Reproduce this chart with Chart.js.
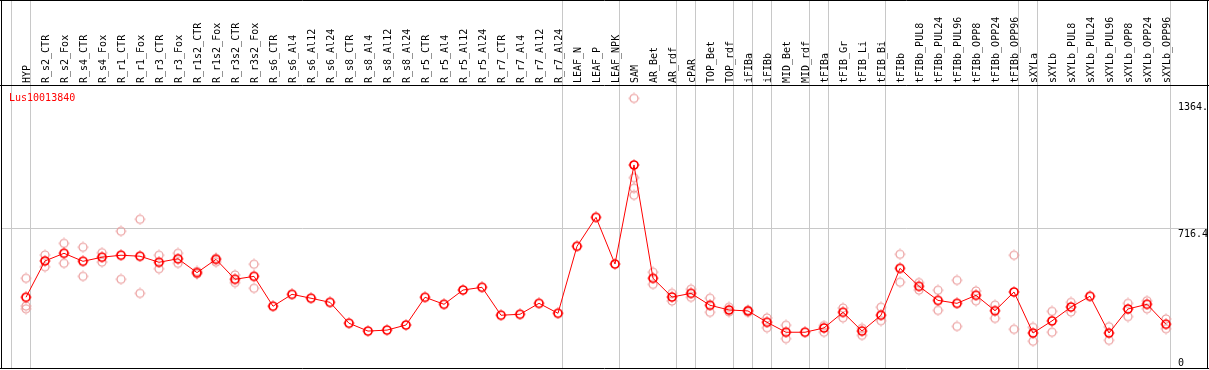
<!DOCTYPE html>
<html>
<head>
<meta charset="utf-8">
<script src="https://cdn.jsdelivr.net/npm/chart.js@4.4.1/dist/chart.umd.min.js"></script>
<style>
  html, body { margin: 0; padding: 0; background: #fff; }
  #chart { display: block; }
</style>
</head>
<body>
<canvas id="chart" width="1209" height="370"></canvas>
<script>
  'use strict';

  /* ── data ── */
  var title = 'Lus10013840';

  var samples = [
    'HYP', 'R_s2_CTR', 'R_s2_Fox', 'R_s4_CTR', 'R_s4_Fox', 'R_r1_CTR', 'R_r1_Fox',
    'R_r3_CTR', 'R_r3_Fox', 'R_r1s2_CTR', 'R_r1s2_Fox', 'R_r3s2_CTR', 'R_r3s2_Fox',
    'R_s6_CTR', 'R_s6_Al4', 'R_s6_Al12', 'R_s6_Al24', 'R_s8_CTR', 'R_s8_Al4',
    'R_s8_Al12', 'R_s8_Al24', 'R_r5_CTR', 'R_r5_Al4', 'R_r5_Al12', 'R_r5_Al24',
    'R_r7_CTR', 'R_r7_Al4', 'R_r7_Al12', 'R_r7_Al24', 'LEAF_N', 'LEAF_P', 'LEAF_NPK',
    'SAM', 'AR_Bet', 'AR_rdf', 'cPAR', 'TOP_Bet', 'TOP_rdf', 'iFIBa', 'iFIBb',
    'MID_Bet', 'MID_rdf', 'tFIBa', 'tFIB_Gr', 'tFIB_Li', 'tFIB_Bi', 'tFIBb',
    'tFIBb_PUL8', 'tFIBb_PUL24', 'tFIBb_PUL96', 'tFIBb_OPP8', 'tFIBb_OPP24', 'tFIBb_OPP96',
    'sXYLa', 'sXYLb', 'sXYLb_PUL8', 'sXYLb_PUL24', 'sXYLb_PUL96', 'sXYLb_OPP8',
    'sXYLb_OPP24', 'sXYLb_OPP96'
  ];

  var means = [
    362, 548, 587, 546, 567, 577, 572, 541, 559, 488,
    556, 454, 469, 316, 377, 357, 336, 229, 189, 194,
    220, 362, 326, 399, 413, 270, 275, 331, 280, 623,
    771, 532, 1039, 459, 363, 382, 321, 297, 292, 234,
    183, 183, 205, 285, 189, 270, 510, 418, 346, 331,
    372, 293, 389, 179, 241, 312, 367, 179, 302, 326, 224
  ];

  // replicate values (null = not shown)
  var repA = [
    459, 578, 638, 618, 590, 700, 761, 577, 587, 494,
    561, 476, 531, null, null, null, null, null, null, null,
    null, null, null, null, null, null, null, null, null, null,
    null, null, 1380, 490, 382, 403, 357, 311, 297, 256,
    219, null, 217, 307, 203, 311, 582, 437, 398, 449,
    394, 322, 577, 208, 290, 336, null, 211, 331, 344, 251
  ];
  var repB = [
    317, 518, 536, 469, 542, 454, 382, 508, 536, 481,
    542, 437, 408, null, null, null, null, null, null, null,
    null, null, null, null, null, null, null, null, null, null,
    null, null, 974, 428, 343, 362, 285, 287, 285, 206,
    150, null, 183, 257, 167, 242, 439, 399, 295, 213,
    344, 254, 198, 137, 183, 287, null, 142, 263, 303, 201
  ];
  var repExtraIdx = [0, 32, 32];
  var repExtraVal = [303, 920, 884];

  // group separators sit just after these sample indexes
  var groupEnds = [-1, 0, 28, 31, 34, 35, 37, 38, 39, 41, 42, 45, 52, 53, 60];

  var yMax = 1432.8;
  var gridValues = [716.4];
  var yTicks = [0, 716.4, 1364];
  var yTickLabels = ['0', '716.4', '1364.'];

  /* ── helpers ── */
  var FONT = '10px "DejaVu Sans Mono", monospace';

  function toPoints(arr) {
    var pts = [];
    arr.forEach(function (v, i) {
      if (v !== null) pts.push({ x: i, y: v });
    });
    return pts;
  }

  function makeMarker(color, lw) {
    var c = document.createElement('canvas');
    c.width = 12;
    c.height = 12;
    var g = c.getContext('2d');
    g.strokeStyle = color;
    g.fillStyle = color;
    g.lineWidth = lw;
    g.beginPath();
    g.arc(6, 6, 4, 0, Math.PI * 2);
    g.stroke();
    // tiny stubs on the four sides
    g.fillRect(5.5, 0.5, 1, 1);
    g.fillRect(5.5, 10.5, 1, 1);
    g.fillRect(0.5, 5.5, 1, 1);
    g.fillRect(10.5, 5.5, 1, 1);
    return c;
  }

  var meanMarker = makeMarker('#ff0000', 1.7);
  var repMarker = makeMarker('#eb9c9c', 1.2);

  var repPoints = toPoints(repA)
    .concat(toPoints(repB))
    .concat(repExtraIdx.map(function (idx, k) { return { x: idx, y: repExtraVal[k] }; }));

  /* ── background + frame drawing ── */
  var framePlugin = {
    id: 'frame',
    beforeDatasetsDraw: function (chart) {
      var ctx = chart.ctx;
      var xs = chart.scales.x;
      var ys = chart.scales.y;
      var area = chart.chartArea;
      ctx.save();
      ctx.strokeStyle = '#c8c8c8';
      ctx.lineWidth = 1;
      ctx.beginPath();
      groupEnds.forEach(function (i) {
        var px = Math.floor(xs.getPixelForValue(i + 0.25)) + 0.5;
        ctx.moveTo(px, 0);
        ctx.lineTo(px, area.bottom + 1);
      });
      gridValues.forEach(function (v) {
        var py = Math.floor(ys.getPixelForValue(v)) + 0.5;
        ctx.moveTo(area.left, py);
        ctx.lineTo(area.right, py);
      });
      ctx.stroke();
      ctx.restore();
    },
    afterDraw: function (chart) {
      var ctx = chart.ctx;
      var xs = chart.scales.x;
      var ys = chart.scales.y;
      var area = chart.chartArea;
      var W = chart.width;
      ctx.save();

      // frame
      ctx.strokeStyle = '#000';
      ctx.lineWidth = 1;
      ctx.beginPath();
      ctx.moveTo(0, 0.5); ctx.lineTo(W, 0.5);
      ctx.moveTo(1.5, 0); ctx.lineTo(1.5, area.bottom + 1);
      ctx.moveTo(W - 1.5, 0); ctx.lineTo(W - 1.5, area.bottom + 1);
      ctx.moveTo(0, area.bottom + 0.5); ctx.lineTo(W, area.bottom + 0.5);
      ctx.moveTo(0, 85.5); ctx.lineTo(W, 85.5);
      ctx.stroke();

      // sample labels (vertical)
      ctx.font = FONT;
      ctx.fillStyle = '#000';
      ctx.textAlign = 'left';
      ctx.textBaseline = 'middle';
      samples.forEach(function (s, i) {
        ctx.save();
        ctx.translate(xs.getPixelForValue(i) + 1, 83);
        ctx.rotate(-Math.PI / 2);
        ctx.fillText(s, 0, 0);
        ctx.restore();
      });

      // y labels at the right
      ctx.textBaseline = 'top';
      yTicks.forEach(function (v, k) {
        var py = Math.min(ys.getPixelForValue(v) + 1, area.bottom - 10);
        ctx.fillText(yTickLabels[k], 1178, py);
      });

      // gene title
      ctx.fillStyle = '#ff0000';
      ctx.fillText(title, 9, 93);
      ctx.restore();
    }
  };

  /* ── chart ── */
  new Chart(document.getElementById('chart').getContext('2d'), {
    type: 'line',
    data: {
      datasets: [
        {
          data: toPoints(means),
          borderColor: '#ff0000',
          borderWidth: 1,
          pointStyle: meanMarker,
          pointRadius: 5,
          tension: 0,
          clip: false,
          order: 0,
        },
        {
          data: repPoints,
          showLine: false,
          pointStyle: repMarker,
          pointRadius: 5,
          clip: false,
          order: 1,
        },
      ],
    },
    options: {
      responsive: false,
      animation: false,
      events: [],
      layout: { autoPadding: false, padding: { left: 1, right: 1, top: 88, bottom: 2 } },
      plugins: { legend: { display: false }, tooltip: { enabled: false } },
      scales: {
        x: { type: 'linear', display: false, min: -25 / 19, max: -25 / 19 + 1207 / 19 },
        y: { type: 'linear', display: false, min: 0, max: yMax },
      },
    },
    plugins: [framePlugin],
  });
</script>
</body>
</html>
